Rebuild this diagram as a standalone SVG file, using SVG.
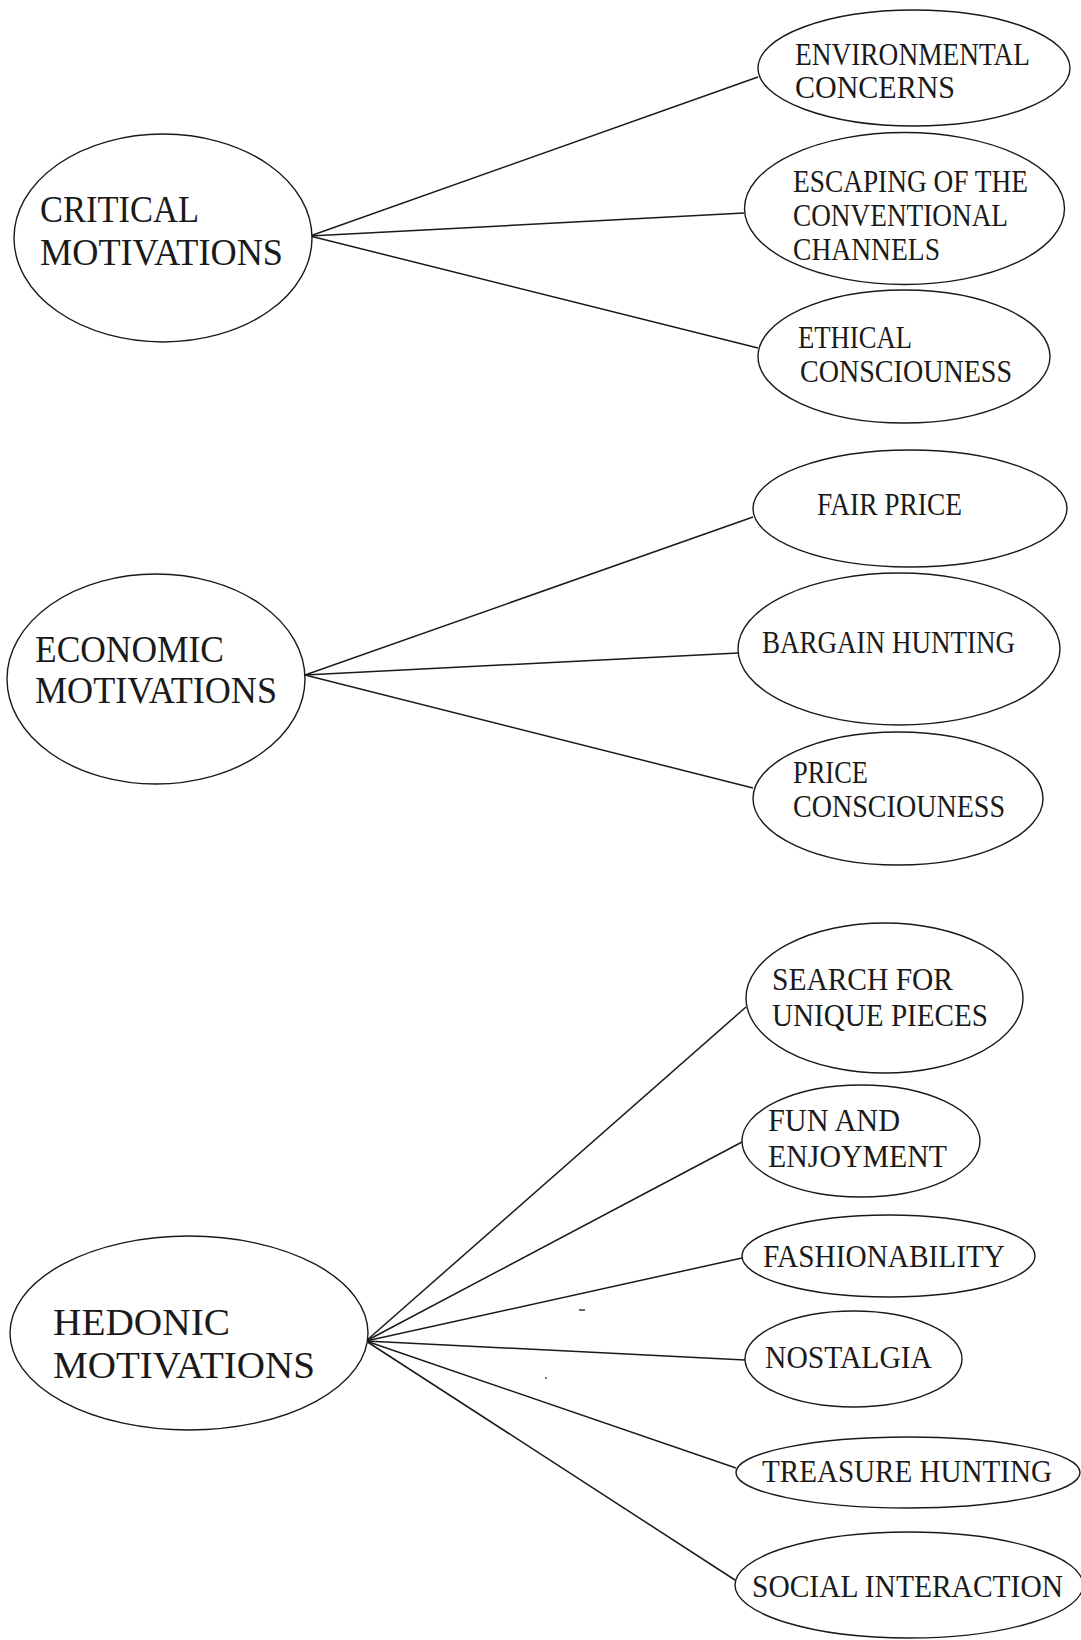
<svg xmlns="http://www.w3.org/2000/svg" width="1081" height="1640" viewBox="0 0 1081 1640">
<style>
.bg{fill:#ffffff}
.node ellipse{fill:#ffffff;stroke:#1a1a1a;stroke-width:1.4}
.conn line{stroke:#1a1a1a;stroke-width:1.5;fill:none}
.hub{font-family:"Liberation Serif","Times New Roman",serif;font-size:37px;fill:#1a1a1a}
.lbl{font-family:"Liberation Serif","Times New Roman",serif;font-size:31px;fill:#1a1a1a}
</style>
<rect class="bg" x="0" y="0" width="1081" height="1640"/>

<g id="connectors" class="conn">
  <line x1="310" y1="236" x2="758" y2="77"/>
  <line x1="310" y1="236" x2="744" y2="213"/>
  <line x1="310" y1="236" x2="758" y2="348"/>
  <line x1="305" y1="675" x2="753" y2="517"/>
  <line x1="305" y1="675" x2="738" y2="653"/>
  <line x1="305" y1="675" x2="753" y2="788"/>
  <line x1="366" y1="1341" x2="746" y2="1007"/>
  <line x1="366" y1="1341" x2="742" y2="1142"/>
  <line x1="366" y1="1341" x2="742" y2="1258"/>
  <line x1="366" y1="1341" x2="745" y2="1360"/>
  <line x1="366" y1="1341" x2="736" y2="1468"/>
  <line x1="366" y1="1341" x2="735" y2="1580"/>
</g>

<g id="critical" class="node">
  <ellipse cx="163" cy="238" rx="149" ry="104"/>
  <text class="hub" x="40" y="222" textLength="159" lengthAdjust="spacingAndGlyphs">CRITICAL</text>
  <text class="hub" x="40" y="265" textLength="243" lengthAdjust="spacingAndGlyphs">MOTIVATIONS</text>
</g>
<g id="environmental" class="node">
  <ellipse cx="914" cy="68" rx="156" ry="58"/>
  <text class="lbl" x="795" y="65" textLength="235" lengthAdjust="spacingAndGlyphs">ENVIRONMENTAL</text>
  <text class="lbl" x="795" y="98" textLength="160" lengthAdjust="spacingAndGlyphs">CONCERNS</text>
</g>
<g id="escaping" class="node">
  <ellipse cx="904.5" cy="208.5" rx="160" ry="76"/>
  <text class="lbl" x="793" y="192" textLength="235" lengthAdjust="spacingAndGlyphs">ESCAPING OF THE</text>
  <text class="lbl" x="793" y="226" textLength="215" lengthAdjust="spacingAndGlyphs">CONVENTIONAL</text>
  <text class="lbl" x="793" y="260" textLength="147" lengthAdjust="spacingAndGlyphs">CHANNELS</text>
</g>
<g id="ethical" class="node">
  <ellipse cx="904" cy="356.5" rx="146" ry="66.5"/>
  <text class="lbl" x="798" y="348" textLength="114" lengthAdjust="spacingAndGlyphs">ETHICAL</text>
  <text class="lbl" x="800" y="382" textLength="212" lengthAdjust="spacingAndGlyphs">CONSCIOUNESS</text>
</g>

<g id="economic" class="node">
  <ellipse cx="156" cy="679" rx="149" ry="105"/>
  <text class="hub" x="35" y="662" textLength="189" lengthAdjust="spacingAndGlyphs">ECONOMIC</text>
  <text class="hub" x="35" y="703" textLength="242" lengthAdjust="spacingAndGlyphs">MOTIVATIONS</text>
</g>
<g id="fair-price" class="node">
  <ellipse cx="910" cy="508.5" rx="157" ry="58.5"/>
  <text class="lbl" x="817" y="515" textLength="145" lengthAdjust="spacingAndGlyphs">FAIR PRICE</text>
</g>
<g id="bargain-hunting" class="node">
  <ellipse cx="899" cy="649" rx="161" ry="76"/>
  <text class="lbl" x="762" y="653" textLength="253" lengthAdjust="spacingAndGlyphs">BARGAIN HUNTING</text>
</g>
<g id="price-consciousness" class="node">
  <ellipse cx="898" cy="798.5" rx="145" ry="66.5"/>
  <text class="lbl" x="793" y="783" textLength="75" lengthAdjust="spacingAndGlyphs">PRICE</text>
  <text class="lbl" x="793" y="817" textLength="212" lengthAdjust="spacingAndGlyphs">CONSCIOUNESS</text>
</g>

<g id="hedonic" class="node">
  <ellipse cx="189" cy="1333" rx="179" ry="97"/>
  <text class="hub" x="53" y="1335" style="font-size:38px" textLength="177" lengthAdjust="spacingAndGlyphs">HEDONIC</text>
  <text class="hub" x="53" y="1378" style="font-size:38px" textLength="262" lengthAdjust="spacingAndGlyphs">MOTIVATIONS</text>
</g>
<g id="search-unique" class="node">
  <ellipse cx="884.5" cy="998" rx="138.5" ry="75"/>
  <text class="lbl" x="772" y="990" textLength="181" lengthAdjust="spacingAndGlyphs">SEARCH FOR</text>
  <text class="lbl" x="772" y="1026" textLength="216" lengthAdjust="spacingAndGlyphs">UNIQUE PIECES</text>
</g>
<g id="fun-enjoyment" class="node">
  <ellipse cx="861" cy="1141" rx="119" ry="56"/>
  <text class="lbl" x="768" y="1131" textLength="132" lengthAdjust="spacingAndGlyphs">FUN AND</text>
  <text class="lbl" x="768" y="1167" textLength="179" lengthAdjust="spacingAndGlyphs">ENJOYMENT</text>
</g>
<g id="fashionability" class="node">
  <ellipse cx="888.5" cy="1256" rx="146.5" ry="41"/>
  <text class="lbl" x="763" y="1267" textLength="242" lengthAdjust="spacingAndGlyphs">FASHIONABILITY</text>
</g>
<g id="nostalgia" class="node">
  <ellipse cx="853.5" cy="1359" rx="108.5" ry="48"/>
  <text class="lbl" x="765" y="1368" textLength="167" lengthAdjust="spacingAndGlyphs">NOSTALGIA</text>
</g>
<g id="treasure-hunting" class="node">
  <ellipse cx="908" cy="1472.5" rx="172" ry="35.5"/>
  <text class="lbl" x="762" y="1482" textLength="290" lengthAdjust="spacingAndGlyphs">TREASURE HUNTING</text>
</g>
<g id="social-interaction" class="node">
  <ellipse cx="909" cy="1585" rx="174" ry="53"/>
  <text class="lbl" x="752" y="1597" textLength="311" lengthAdjust="spacingAndGlyphs">SOCIAL INTERACTION</text>
</g>

<line x1="579" y1="1310" x2="585" y2="1310" stroke="#333" stroke-width="1.5"/>
<circle cx="546" cy="1378" r="1" fill="#444"/>
</svg>
